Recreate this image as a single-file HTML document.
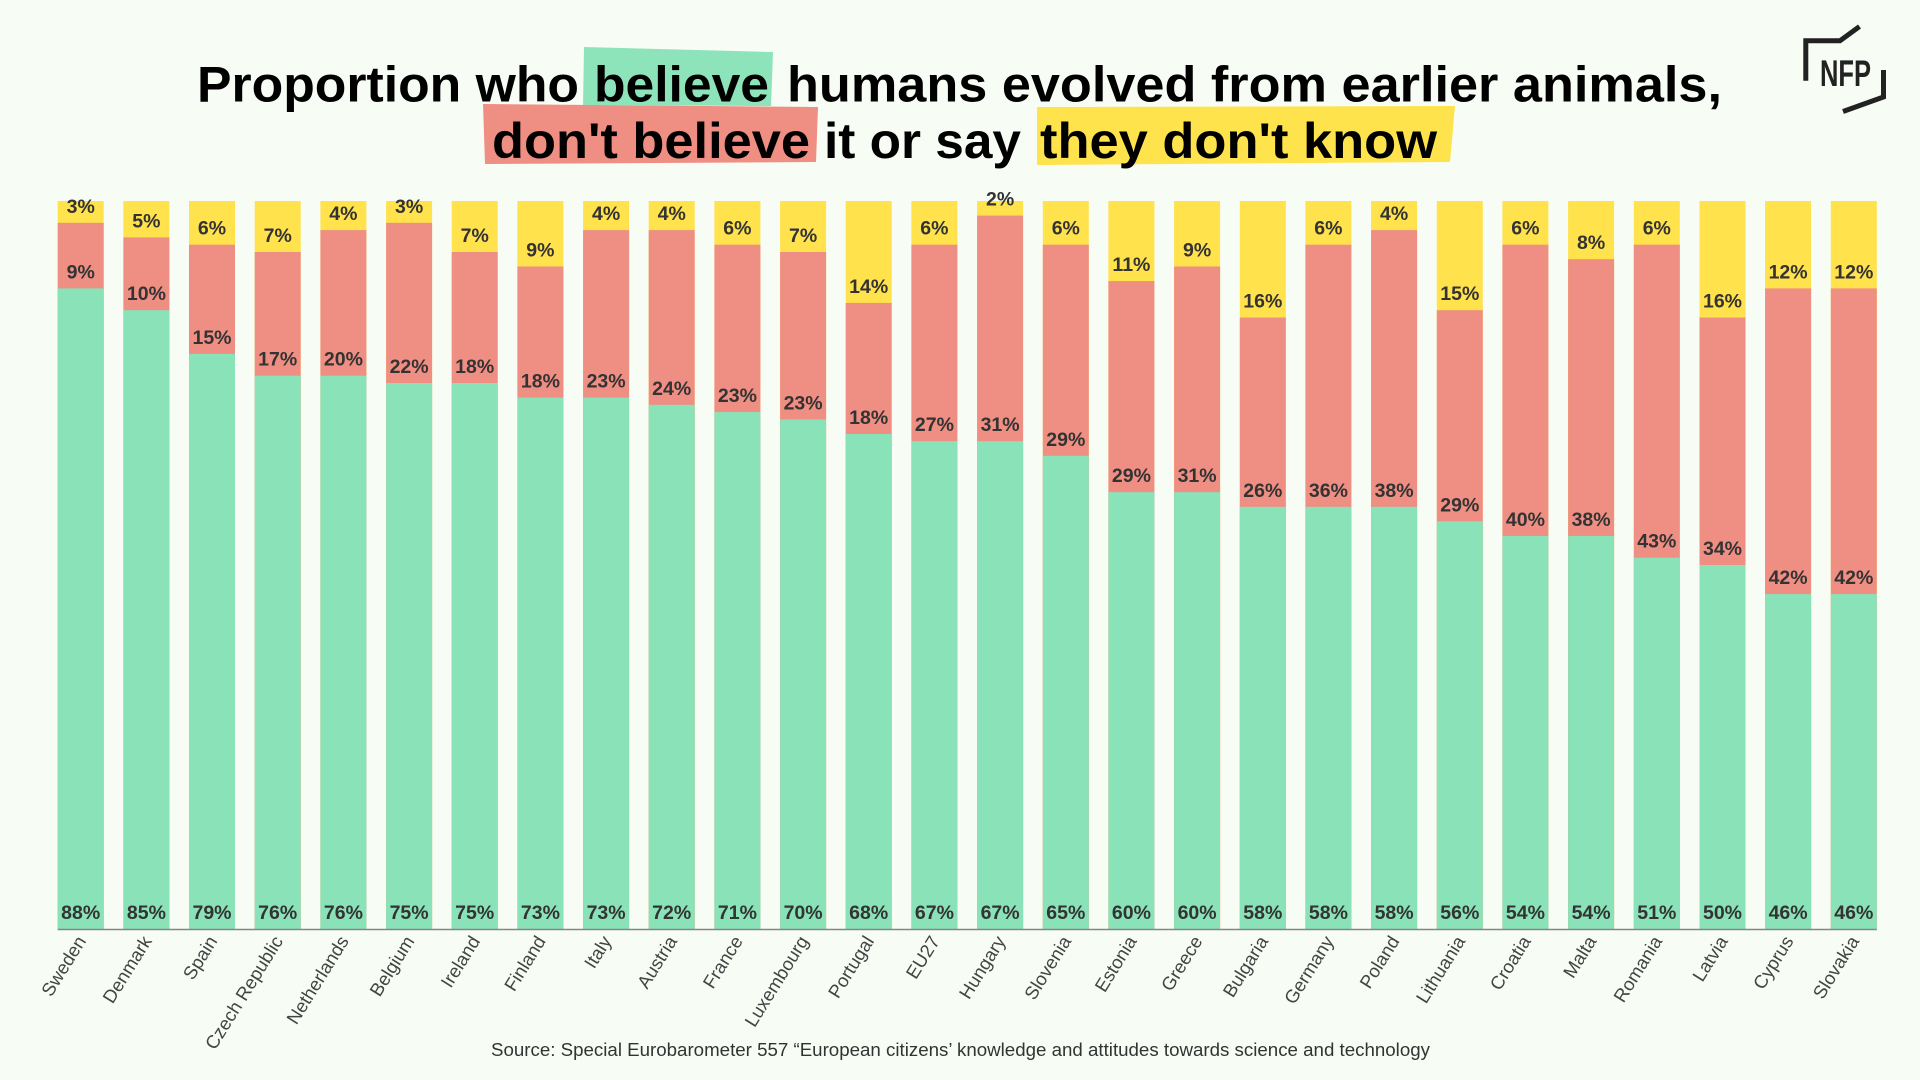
<!DOCTYPE html>
<html>
<head>
<meta charset="utf-8">
<style>
  html,body{margin:0;padding:0;background:#f7fdf4;}
  svg{display:block;}
  .t{font-family:"Liberation Sans",sans-serif;font-weight:bold;font-size:50px;fill:#000;}
  .v{font-family:"Liberation Sans",sans-serif;font-weight:bold;font-size:19.5px;fill:#333;text-anchor:middle;}
  .c{font-family:"Liberation Sans",sans-serif;font-size:18.5px;fill:#444;text-anchor:end;}
  .s{font-family:"Liberation Sans",sans-serif;font-size:18px;fill:#333;}
</style>
</head>
<body>
<svg width="1920" height="1080" viewBox="0 0 1920 1080" xmlns="http://www.w3.org/2000/svg">
  <rect x="0" y="0" width="1920" height="1080" fill="#f7fdf4"/>

  <!-- Title highlights -->
  <polygon points="584,47 773,52 771,106 583,105" fill="#8de4bb"/>
  <polygon points="483,104 818,107 816,162 485,164" fill="#ef8e83"/>
  <polygon points="1037,107 1455,106 1450,162 1037,165" fill="#ffe34d"/>

  <!-- Title text -->
  <text class="t" x="197" y="101.5" textLength="382" lengthAdjust="spacingAndGlyphs">Proportion who</text>
  <text class="t" x="594" y="101.5" textLength="175" lengthAdjust="spacingAndGlyphs">believe</text>
  <text class="t" x="787" y="101.5" textLength="935" lengthAdjust="spacingAndGlyphs">humans evolved from earlier animals,</text>
  <text class="t" x="492" y="158" textLength="318" lengthAdjust="spacingAndGlyphs">don't believe</text>
  <text class="t" x="824" y="158" textLength="197" lengthAdjust="spacingAndGlyphs">it or say</text>
  <text class="t" x="1040" y="158" textLength="397" lengthAdjust="spacingAndGlyphs">they don't know</text>

  <!-- Logo -->
  <polyline points="1805.8,80.7 1805.8,40.8 1840,40.8 1859.5,26.5" fill="none" stroke="#222" stroke-width="5"/>
  <polyline points="1883.5,70 1883.5,97 1843,111.5" fill="none" stroke="#222" stroke-width="5"/>
  <text x="1820" y="86" font-family="Liberation Sans, sans-serif" font-weight="bold" font-size="37" fill="#222" textLength="51" lengthAdjust="spacingAndGlyphs">NFP</text>

  <!-- Bars: yellow full, red from R, green from G -->
  <g>
    <!-- 0 Sweden 88/9/3 -->
    <rect x="57.7" y="201" width="46" height="728" fill="#ffe24c"/>
    <rect x="57.7" y="222.8" width="46" height="706.2" fill="#ef8e82"/>
    <rect x="57.7" y="288.4" width="46" height="640.6" fill="#8ae2b8"/>
    <!-- 1 Denmark 85/10/5 -->
    <rect x="123.4" y="201" width="46" height="728" fill="#ffe24c"/>
    <rect x="123.4" y="237.4" width="46" height="691.6" fill="#ef8e82"/>
    <rect x="123.4" y="310.2" width="46" height="618.8" fill="#8ae2b8"/>
    <!-- 2 Spain 79/15/6 -->
    <rect x="189.0" y="201" width="46" height="728" fill="#ffe24c"/>
    <rect x="189.0" y="244.7" width="46" height="684.3" fill="#ef8e82"/>
    <rect x="189.0" y="353.9" width="46" height="575.1" fill="#8ae2b8"/>
    <!-- 3 Czech 76/17/7 -->
    <rect x="254.7" y="201" width="46" height="728" fill="#ffe24c"/>
    <rect x="254.7" y="252.0" width="46" height="677" fill="#ef8e82"/>
    <rect x="254.7" y="375.7" width="46" height="553.3" fill="#8ae2b8"/>
    <!-- 4 Netherlands 76/20/4 -->
    <rect x="320.4" y="201" width="46" height="728" fill="#ffe24c"/>
    <rect x="320.4" y="230.1" width="46" height="698.9" fill="#ef8e82"/>
    <rect x="320.4" y="375.7" width="46" height="553.3" fill="#8ae2b8"/>
    <!-- 5 Belgium 75/22/3 -->
    <rect x="386.1" y="201" width="46" height="728" fill="#ffe24c"/>
    <rect x="386.1" y="222.8" width="46" height="706.2" fill="#ef8e82"/>
    <rect x="386.1" y="383" width="46" height="546" fill="#8ae2b8"/>
    <!-- 6 Ireland 75/18/7 -->
    <rect x="451.7" y="201" width="46" height="728" fill="#ffe24c"/>
    <rect x="451.7" y="252.0" width="46" height="677" fill="#ef8e82"/>
    <rect x="451.7" y="383" width="46" height="546" fill="#8ae2b8"/>
    <!-- 7 Finland 73/18/9 -->
    <rect x="517.4" y="201" width="46" height="728" fill="#ffe24c"/>
    <rect x="517.4" y="266.5" width="46" height="662.5" fill="#ef8e82"/>
    <rect x="517.4" y="397.6" width="46" height="531.4" fill="#8ae2b8"/>
    <!-- 8 Italy 73/23/4 -->
    <rect x="583.1" y="201" width="46" height="728" fill="#ffe24c"/>
    <rect x="583.1" y="230.1" width="46" height="698.9" fill="#ef8e82"/>
    <rect x="583.1" y="397.6" width="46" height="531.4" fill="#8ae2b8"/>
    <!-- 9 Austria 72/24/4 -->
    <rect x="648.7" y="201" width="46" height="728" fill="#ffe24c"/>
    <rect x="648.7" y="230.1" width="46" height="698.9" fill="#ef8e82"/>
    <rect x="648.7" y="404.8" width="46" height="524.2" fill="#8ae2b8"/>
    <!-- 10 France 71/23/6 -->
    <rect x="714.4" y="201" width="46" height="728" fill="#ffe24c"/>
    <rect x="714.4" y="244.7" width="46" height="684.3" fill="#ef8e82"/>
    <rect x="714.4" y="412.1" width="46" height="516.9" fill="#8ae2b8"/>
    <!-- 11 Luxembourg 70/23/7 -->
    <rect x="780.1" y="201" width="46" height="728" fill="#ffe24c"/>
    <rect x="780.1" y="252.0" width="46" height="677" fill="#ef8e82"/>
    <rect x="780.1" y="419.4" width="46" height="509.6" fill="#8ae2b8"/>
    <!-- 12 Portugal 68/18/14 -->
    <rect x="845.7" y="201" width="46" height="728" fill="#ffe24c"/>
    <rect x="845.7" y="302.9" width="46" height="626.1" fill="#ef8e82"/>
    <rect x="845.7" y="434.0" width="46" height="495" fill="#8ae2b8"/>
    <!-- 13 EU27 67/27/6 -->
    <rect x="911.4" y="201" width="46" height="728" fill="#ffe24c"/>
    <rect x="911.4" y="244.7" width="46" height="684.3" fill="#ef8e82"/>
    <rect x="911.4" y="441.2" width="46" height="487.8" fill="#8ae2b8"/>
    <!-- 14 Hungary 67/31/2 -->
    <rect x="977.1" y="201" width="46" height="728" fill="#ffe24c"/>
    <rect x="977.1" y="215.6" width="46" height="713.4" fill="#ef8e82"/>
    <rect x="977.1" y="441.2" width="46" height="487.8" fill="#8ae2b8"/>
    <!-- 15 Slovenia 65/29/6 -->
    <rect x="1042.8" y="201" width="46" height="728" fill="#ffe24c"/>
    <rect x="1042.8" y="244.7" width="46" height="684.3" fill="#ef8e82"/>
    <rect x="1042.8" y="455.8" width="46" height="473.2" fill="#8ae2b8"/>
    <!-- 16 Estonia 60/29/11 -->
    <rect x="1108.4" y="201" width="46" height="728" fill="#ffe24c"/>
    <rect x="1108.4" y="281.1" width="46" height="647.9" fill="#ef8e82"/>
    <rect x="1108.4" y="492.2" width="46" height="436.8" fill="#8ae2b8"/>
    <!-- 17 Greece 60/31/9 -->
    <rect x="1174.1" y="201" width="46" height="728" fill="#ffe24c"/>
    <rect x="1174.1" y="266.5" width="46" height="662.5" fill="#ef8e82"/>
    <rect x="1174.1" y="492.2" width="46" height="436.8" fill="#8ae2b8"/>
    <!-- 18 Bulgaria 58/26/16 -->
    <rect x="1239.8" y="201" width="46" height="728" fill="#ffe24c"/>
    <rect x="1239.8" y="317.5" width="46" height="611.5" fill="#ef8e82"/>
    <rect x="1239.8" y="506.8" width="46" height="422.2" fill="#8ae2b8"/>
    <!-- 19 Germany 58/36/6 -->
    <rect x="1305.4" y="201" width="46" height="728" fill="#ffe24c"/>
    <rect x="1305.4" y="244.7" width="46" height="684.3" fill="#ef8e82"/>
    <rect x="1305.4" y="506.8" width="46" height="422.2" fill="#8ae2b8"/>
    <!-- 20 Poland 58/38/4 -->
    <rect x="1371.1" y="201" width="46" height="728" fill="#ffe24c"/>
    <rect x="1371.1" y="230.1" width="46" height="698.9" fill="#ef8e82"/>
    <rect x="1371.1" y="506.8" width="46" height="422.2" fill="#8ae2b8"/>
    <!-- 21 Lithuania 56/29/15 -->
    <rect x="1436.8" y="201" width="46" height="728" fill="#ffe24c"/>
    <rect x="1436.8" y="310.2" width="46" height="618.8" fill="#ef8e82"/>
    <rect x="1436.8" y="521.3" width="46" height="407.7" fill="#8ae2b8"/>
    <!-- 22 Croatia 54/40/6 -->
    <rect x="1502.4" y="201" width="46" height="728" fill="#ffe24c"/>
    <rect x="1502.4" y="244.7" width="46" height="684.3" fill="#ef8e82"/>
    <rect x="1502.4" y="535.9" width="46" height="393.1" fill="#8ae2b8"/>
    <!-- 23 Malta 54/38/8 -->
    <rect x="1568.1" y="201" width="46" height="728" fill="#ffe24c"/>
    <rect x="1568.1" y="259.2" width="46" height="669.8" fill="#ef8e82"/>
    <rect x="1568.1" y="535.9" width="46" height="393.1" fill="#8ae2b8"/>
    <!-- 24 Romania 51/43/6 -->
    <rect x="1633.8" y="201" width="46" height="728" fill="#ffe24c"/>
    <rect x="1633.8" y="244.7" width="46" height="684.3" fill="#ef8e82"/>
    <rect x="1633.8" y="557.7" width="46" height="371.3" fill="#8ae2b8"/>
    <!-- 25 Latvia 50/34/16 -->
    <rect x="1699.5" y="201" width="46" height="728" fill="#ffe24c"/>
    <rect x="1699.5" y="317.5" width="46" height="611.5" fill="#ef8e82"/>
    <rect x="1699.5" y="565" width="46" height="364" fill="#8ae2b8"/>
    <!-- 26 Cyprus 46/42/12 -->
    <rect x="1765.1" y="201" width="46" height="728" fill="#ffe24c"/>
    <rect x="1765.1" y="288.4" width="46" height="640.6" fill="#ef8e82"/>
    <rect x="1765.1" y="594.1" width="46" height="334.9" fill="#8ae2b8"/>
    <!-- 27 Slovakia 46/42/12 -->
    <rect x="1830.8" y="201" width="46" height="728" fill="#ffe24c"/>
    <rect x="1830.8" y="288.4" width="46" height="640.6" fill="#ef8e82"/>
    <rect x="1830.8" y="594.1" width="46" height="334.9" fill="#8ae2b8"/>
  </g>

  <!-- Axis line -->
  <line x1="57.7" y1="929.5" x2="1876.8" y2="929.5" stroke="#858585" stroke-width="1.6"/>

  <!-- Value labels -->
  <g class="v">
    <!-- yellow -->
    <text x="80.7" y="212.8" class="v">3%</text>
    <text x="146.4" y="227.4" class="v">5%</text>
    <text x="212.0" y="234.7" class="v">6%</text>
    <text x="277.7" y="242" class="v">7%</text>
    <text x="343.4" y="220.1" class="v">4%</text>
    <text x="409.1" y="212.8" class="v">3%</text>
    <text x="474.7" y="242" class="v">7%</text>
    <text x="540.4" y="256.5" class="v">9%</text>
    <text x="606.1" y="220.1" class="v">4%</text>
    <text x="671.7" y="220.1" class="v">4%</text>
    <text x="737.4" y="234.7" class="v">6%</text>
    <text x="803.1" y="242" class="v">7%</text>
    <text x="868.7" y="292.9" class="v">14%</text>
    <text x="934.4" y="234.7" class="v">6%</text>
    <text x="1000.1" y="205.6" class="v">2%</text>
    <text x="1065.8" y="234.7" class="v">6%</text>
    <text x="1131.4" y="271.1" class="v">11%</text>
    <text x="1197.1" y="256.5" class="v">9%</text>
    <text x="1262.8" y="307.5" class="v">16%</text>
    <text x="1328.4" y="234.7" class="v">6%</text>
    <text x="1394.1" y="220.1" class="v">4%</text>
    <text x="1459.8" y="300.2" class="v">15%</text>
    <text x="1525.4" y="234.7" class="v">6%</text>
    <text x="1591.1" y="249.2" class="v">8%</text>
    <text x="1656.8" y="234.7" class="v">6%</text>
    <text x="1722.5" y="307.5" class="v">16%</text>
    <text x="1788.1" y="278.4" class="v">12%</text>
    <text x="1853.8" y="278.4" class="v">12%</text>
    <!-- red -->
    <text x="80.7" y="278.4" class="v">9%</text>
    <text x="146.4" y="300.2" class="v">10%</text>
    <text x="212.0" y="343.9" class="v">15%</text>
    <text x="277.7" y="365.7" class="v">17%</text>
    <text x="343.4" y="365.7" class="v">20%</text>
    <text x="409.1" y="373" class="v">22%</text>
    <text x="474.7" y="373" class="v">18%</text>
    <text x="540.4" y="387.6" class="v">18%</text>
    <text x="606.1" y="387.6" class="v">23%</text>
    <text x="671.7" y="394.8" class="v">24%</text>
    <text x="737.4" y="402.1" class="v">23%</text>
    <text x="803.1" y="409.4" class="v">23%</text>
    <text x="868.7" y="424" class="v">18%</text>
    <text x="934.4" y="431.2" class="v">27%</text>
    <text x="1000.1" y="431.2" class="v">31%</text>
    <text x="1065.8" y="445.8" class="v">29%</text>
    <text x="1131.4" y="482.2" class="v">29%</text>
    <text x="1197.1" y="482.2" class="v">31%</text>
    <text x="1262.8" y="496.8" class="v">26%</text>
    <text x="1328.4" y="496.8" class="v">36%</text>
    <text x="1394.1" y="496.8" class="v">38%</text>
    <text x="1459.8" y="511.3" class="v">29%</text>
    <text x="1525.4" y="525.9" class="v">40%</text>
    <text x="1591.1" y="525.9" class="v">38%</text>
    <text x="1656.8" y="547.7" class="v">43%</text>
    <text x="1722.5" y="555" class="v">34%</text>
    <text x="1788.1" y="584.1" class="v">42%</text>
    <text x="1853.8" y="584.1" class="v">42%</text>
    <!-- green -->
    <text x="80.7" y="919" class="v">88%</text>
    <text x="146.4" y="919" class="v">85%</text>
    <text x="212.0" y="919" class="v">79%</text>
    <text x="277.7" y="919" class="v">76%</text>
    <text x="343.4" y="919" class="v">76%</text>
    <text x="409.1" y="919" class="v">75%</text>
    <text x="474.7" y="919" class="v">75%</text>
    <text x="540.4" y="919" class="v">73%</text>
    <text x="606.1" y="919" class="v">73%</text>
    <text x="671.7" y="919" class="v">72%</text>
    <text x="737.4" y="919" class="v">71%</text>
    <text x="803.1" y="919" class="v">70%</text>
    <text x="868.7" y="919" class="v">68%</text>
    <text x="934.4" y="919" class="v">67%</text>
    <text x="1000.1" y="919" class="v">67%</text>
    <text x="1065.8" y="919" class="v">65%</text>
    <text x="1131.4" y="919" class="v">60%</text>
    <text x="1197.1" y="919" class="v">60%</text>
    <text x="1262.8" y="919" class="v">58%</text>
    <text x="1328.4" y="919" class="v">58%</text>
    <text x="1394.1" y="919" class="v">58%</text>
    <text x="1459.8" y="919" class="v">56%</text>
    <text x="1525.4" y="919" class="v">54%</text>
    <text x="1591.1" y="919" class="v">54%</text>
    <text x="1656.8" y="919" class="v">51%</text>
    <text x="1722.5" y="919" class="v">50%</text>
    <text x="1788.1" y="919" class="v">46%</text>
    <text x="1853.8" y="919" class="v">46%</text>
  </g>

  <!-- Country labels -->
  <g class="c">
    <text class="c" x="86.7" y="941" transform="rotate(-58 86.7 941)">Sweden</text>
    <text class="c" x="152.4" y="941" transform="rotate(-58 152.4 941)">Denmark</text>
    <text class="c" x="218.0" y="941" transform="rotate(-58 218.0 941)">Spain</text>
    <text class="c" x="283.7" y="941" transform="rotate(-58 283.7 941)">Czech Republic</text>
    <text class="c" x="349.4" y="941" transform="rotate(-58 349.4 941)">Netherlands</text>
    <text class="c" x="415.1" y="941" transform="rotate(-58 415.1 941)">Belgium</text>
    <text class="c" x="480.7" y="941" transform="rotate(-58 480.7 941)">Ireland</text>
    <text class="c" x="546.4" y="941" transform="rotate(-58 546.4 941)">Finland</text>
    <text class="c" x="612.1" y="941" transform="rotate(-58 612.1 941)">Italy</text>
    <text class="c" x="677.7" y="941" transform="rotate(-58 677.7 941)">Austria</text>
    <text class="c" x="743.4" y="941" transform="rotate(-58 743.4 941)">France</text>
    <text class="c" x="809.1" y="941" transform="rotate(-58 809.1 941)">Luxembourg</text>
    <text class="c" x="874.7" y="941" transform="rotate(-58 874.7 941)">Portugal</text>
    <text class="c" x="940.4" y="941" transform="rotate(-58 940.4 941)">EU27</text>
    <text class="c" x="1006.1" y="941" transform="rotate(-58 1006.1 941)">Hungary</text>
    <text class="c" x="1071.8" y="941" transform="rotate(-58 1071.8 941)">Slovenia</text>
    <text class="c" x="1137.4" y="941" transform="rotate(-58 1137.4 941)">Estonia</text>
    <text class="c" x="1203.1" y="941" transform="rotate(-58 1203.1 941)">Greece</text>
    <text class="c" x="1268.8" y="941" transform="rotate(-58 1268.8 941)">Bulgaria</text>
    <text class="c" x="1334.4" y="941" transform="rotate(-58 1334.4 941)">Germany</text>
    <text class="c" x="1400.1" y="941" transform="rotate(-58 1400.1 941)">Poland</text>
    <text class="c" x="1465.8" y="941" transform="rotate(-58 1465.8 941)">Lithuania</text>
    <text class="c" x="1531.4" y="941" transform="rotate(-58 1531.4 941)">Croatia</text>
    <text class="c" x="1597.1" y="941" transform="rotate(-58 1597.1 941)">Malta</text>
    <text class="c" x="1662.8" y="941" transform="rotate(-58 1662.8 941)">Romania</text>
    <text class="c" x="1728.5" y="941" transform="rotate(-58 1728.5 941)">Latvia</text>
    <text class="c" x="1794.1" y="941" transform="rotate(-58 1794.1 941)">Cyprus</text>
    <text class="c" x="1859.8" y="941" transform="rotate(-58 1859.8 941)">Slovakia</text>
  </g>

  <!-- Source -->
  <text class="s" x="491" y="1056" textLength="939" lengthAdjust="spacingAndGlyphs">Source: Special Eurobarometer 557 “European citizens’ knowledge and attitudes towards science and technology</text>
</svg>
</body>
</html>
